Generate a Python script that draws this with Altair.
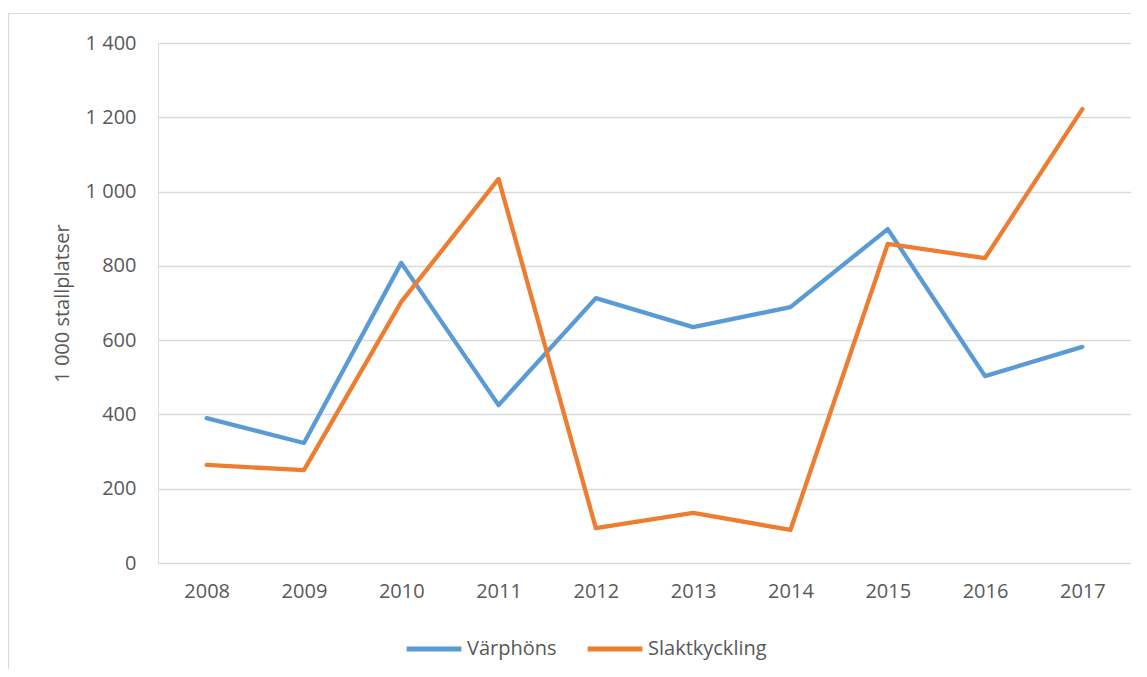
import altair as alt
import pandas as pd

years = ["2008", "2009", "2010", "2011", "2012", "2013", "2014", "2015", "2016", "2017"]
varphons = [390, 323, 808, 425, 713, 635, 689, 899, 503, 582]
slaktkyckling = [264, 250, 703, 1034, 94, 135, 89, 859, 821, 1222]
series_names = ["Värphöns", "Slaktkyckling"]
series_colors = ["#5B9BD5", "#ED7D31"]
y_ticks = [0, 200, 400, 600, 800, 1000, 1200, 1400]

rows = []
for name, vals in zip(series_names, [varphons, slaktkyckling]):
    for yr, v in zip(years, vals):
        rows.append({"År": yr, "Värde": v, "Serie": name, "ord": series_names.index(name)})
df = pd.DataFrame(rows)

FONT = "Open Sans"
TXT = "#595959"
GRID = "#D9D9D9"

frame = alt.Chart(pd.DataFrame({"a": [0]})).mark_rect(
    fill=None, stroke=GRID, strokeWidth=1.2
).encode(
    x=alt.value(-149.5), x2=alt.value(1010), y=alt.value(-29.5), y2=alt.value(700)
)

lines = alt.Chart(df).mark_line(strokeWidth=4.3, strokeCap="round", strokeJoin="round").encode(
    x=alt.X("År:N", sort=years,
            scale=alt.Scale(type="point", padding=0.5),
            axis=alt.Axis(title=None, ticks=False, domain=False, grid=False,
                          labelAngle=0, labelPadding=18, labelFontSize=20,
                          labelColor=TXT, labelFont=FONT)),
    y=alt.Y("Värde:Q",
            scale=alt.Scale(domain=[0, 1400], nice=False, zero=True),
            axis=alt.Axis(title="1 000 stallplatser", values=y_ticks,
                          labelExpr="replace(format(datum.value, ','), ',', ' ')",
                          ticks=False, domain=False, grid=True, gridColor=GRID,
                          gridWidth=1.3, labelPadding=22, labelFontSize=20,
                          labelColor=TXT, labelFont=FONT,
                          titleFont=FONT, titleFontSize=20, titleColor=TXT,
                          titleFontWeight="normal", titleX=-96, titleY=260,
                          titleAngle=270, titleAlign="center", titleBaseline="middle")),
    color=alt.Color("Serie:N",
                    scale=alt.Scale(domain=series_names, range=series_colors),
                    legend=alt.Legend(title=None, orient="none", legendX=246, legendY=576,
                                      direction="horizontal", symbolType="stroke",
                                      symbolSize=3000, symbolStrokeWidth=5,
                                      labelFontSize=20, labelFont=FONT, labelColor=TXT,
                                      labelOffset=3, columnPadding=20, padding=0)),
    order=alt.Order("ord:Q"),
    detail="Serie:N",
)

chart = alt.layer(frame, lines).properties(
    width=973, height=520,
    autosize=alt.AutoSizeParams(type="none"),
    padding={"left": 150, "top": 35, "right": 0, "bottom": 106},
).configure_view(stroke=None).configure(background="white")

chart.save("out.html", embed_options={"renderer": "svg", "actions": False})
